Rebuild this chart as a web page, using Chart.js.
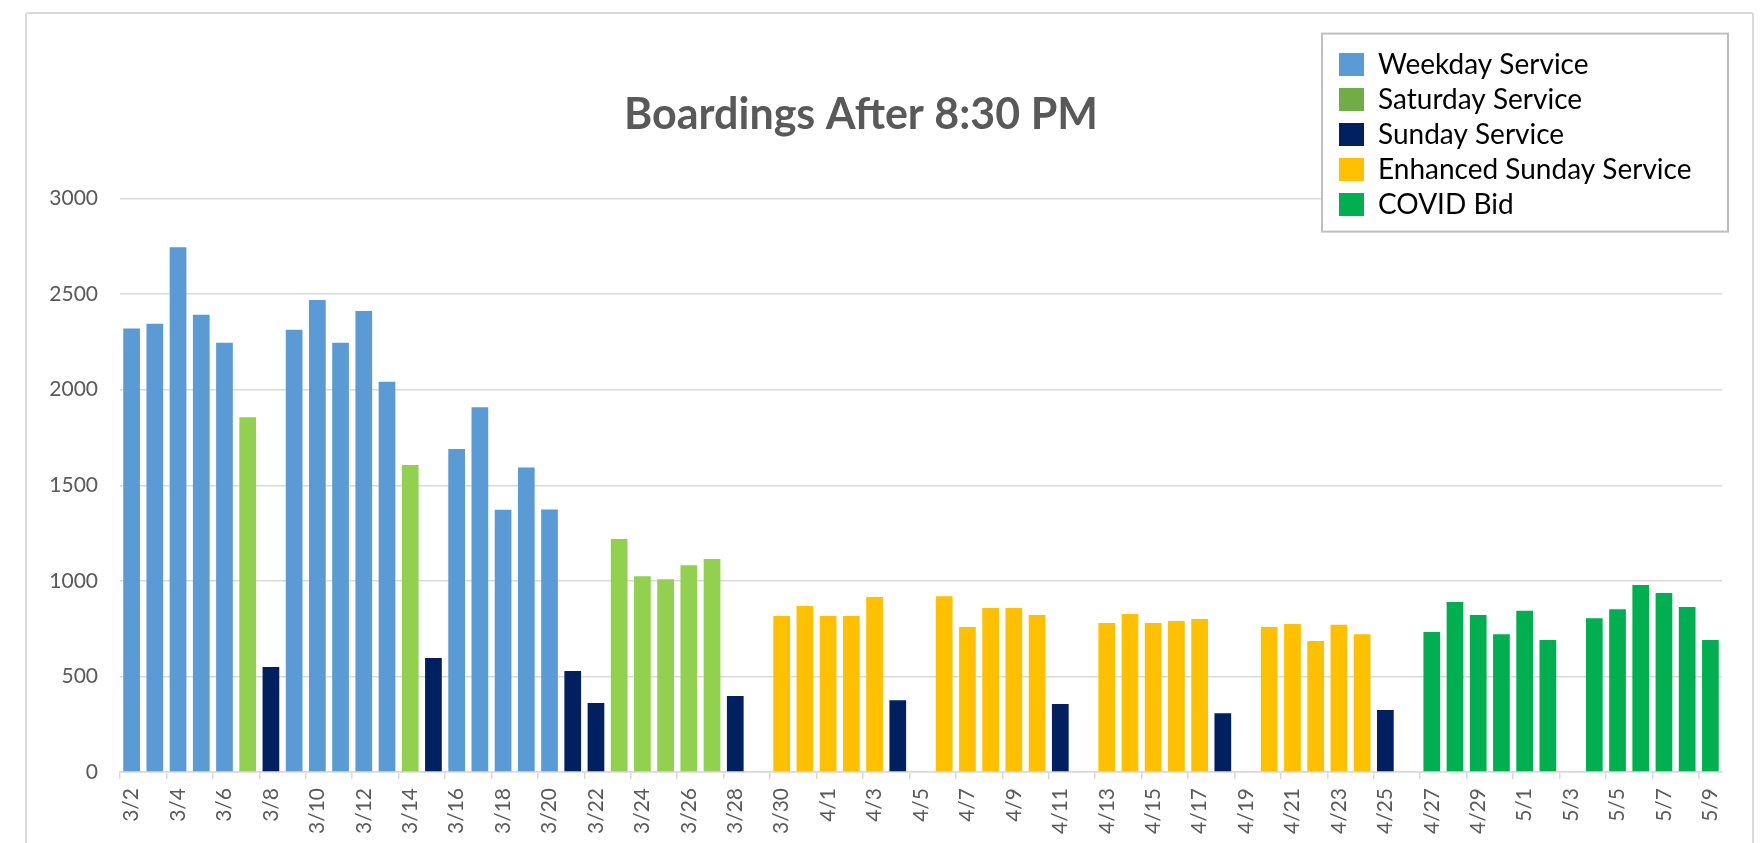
<!DOCTYPE html>
<html>
<head>
<meta charset="utf-8">
<title>Boardings After 8:30 PM</title>
<script src="https://cdn.jsdelivr.net/npm/chart.js@4.4.1/dist/chart.umd.min.js"></script>
<style>
  html, body { margin: 0; padding: 0; background: #fff; overflow: hidden; }
  #frame { position: absolute; left: 25px; top: 12px; width: 1725px; height: 900px; border: 2px solid #d9d9d9; border-radius: 3px; }
  #wrap { position: absolute; left: 0; top: 0; width: 1763px; height: 843px; }
</style>
</head>
<body>
<div id="frame"></div>
<div id="wrap"><canvas id="boardingsChart"></canvas></div>
<script>
// Daily dates, 3/2 to 5/9
const dates = [
  '3/2','3/3','3/4','3/5','3/6','3/7','3/8','3/9','3/10','3/11','3/12','3/13','3/14','3/15',
  '3/16','3/17','3/18','3/19','3/20','3/21','3/22','3/23','3/24','3/25','3/26','3/27','3/28','3/29',
  '3/30','3/31','4/1','4/2','4/3','4/4','4/5','4/6','4/7','4/8','4/9','4/10','4/11','4/12',
  '4/13','4/14','4/15','4/16','4/17','4/18','4/19','4/20','4/21','4/22','4/23','4/24','4/25','4/26',
  '4/27','4/28','4/29','4/30','5/1','5/2','5/3','5/4','5/5','5/6','5/7','5/8','5/9'
];

// Boardings after 8:30 PM (null = no data that day)
const boardings = [
  2320, 2345, 2746, 2392, 2246, 1856, 549, 2314, 2469, 2246, 2412, 2042, 1606, 597,
  1690, 1909, 1372, 1593, 1374, 529, 361, 1219, 1024, 1009, 1082, 1115, 398, null,
  816, 869, 816, 816, 916, 376, null, 920, 759, 858, 858, 821, 356, null,
  779, 827, 779, 790, 801, 308, null, 759, 774, 686, 770, 721, 325, null,
  732, 889, 821, 721, 843, 690, null, 805, 852, 978, 936, 863, 690
];

// Which service ran each day
const service = [
  'W','W','W','W','W','Sa','Su','W','W','W','W','W','Sa','Su',
  'W','W','W','W','W','Su','Su','Sa','Sa','Sa','Sa','Sa','Su',null,
  'E','E','E','E','E','Su',null,'E','E','E','E','E','Su',null,
  'E','E','E','E','E','Su',null,'E','E','E','E','E','Su',null,
  'C','C','C','C','C','C',null,'C','C','C','C','C','C'
];

const seriesKeys = ['W', 'Sa', 'Su', 'E', 'C'];
const seriesNames = ['Weekday Service', 'Saturday Service', 'Sunday Service', 'Enhanced Sunday Service', 'COVID Bid'];
const barColors = ['#5B9BD5', '#92D050', '#002060', '#FFC000', '#00B050'];
const legendColors = ['#5B9BD5', '#70AD47', '#002060', '#FFC000', '#00B050'];

const yTicks = [0, 500, 1000, 1500, 2000, 2500, 3000];

const datasets = seriesKeys.map((key, i) => ({
    label: seriesNames[i],
    data: boardings.map((v, j) => service[j] === key ? v : null),
    backgroundColor: barColors[i],
    borderWidth: 0,
    categoryPercentage: 1,
    barPercentage: 0.72
}));

// legend sits inside the plot, top right, with a grey frame
const legendBox = {
    id: 'legendBox',
    afterLayout(chart) {
        const lg = chart.legend;
        lg.left = chart.chartArea.right - 390;
        lg.top = chart.chartArea.top - 155;
        lg.right = lg.left + lg.width;
        lg.bottom = lg.top + lg.height;
    },
    afterDraw(chart) {
        const lg = chart.legend;
        const ctx = chart.ctx;
        ctx.save();
        ctx.fillStyle = '#fff';
        ctx.strokeStyle = '#bfbfbf';
        ctx.lineWidth = 2;
        ctx.fillRect(lg.left - 10, lg.top - 10, 406, 198);
        ctx.strokeRect(lg.left - 10, lg.top - 10, 406, 198);
        ctx.restore();
        lg.draw();
    }
};

function makeChart() {
    const ctx = document.getElementById('boardingsChart').getContext('2d');
    new Chart(ctx, {
        type: 'bar',
        data: { labels: dates, datasets: datasets },
        options: {
            responsive: true,
            maintainAspectRatio: false,
            animation: false,
            layout: { padding: { left: 0, right: 41, top: 0, bottom: 0 } },
            scales: {
                x: {
                    stacked: true,
                    grid: {
                        offset: true,
                        drawOnChartArea: false,
                        tickLength: 7,
                        lineWidth: 1.5,
                        tickColor: c => c.index % 2 === 0 ? '#d9d9d9' : 'rgba(0,0,0,0)'
                    },
                    border: { color: '#d9d9d9', width: 1.5 },
                    ticks: {
                        autoSkip: false,
                        minRotation: 90,
                        maxRotation: 90,
                        padding: 9,
                        color: '#595959',
                        font: { family: 'Lato', size: 21 },
                        callback: function (v, i) { return i % 2 === 0 ? this.getLabelForValue(v) : ''; }
                    },
                    afterFit: s => { s.height = 71; }
                },
                y: {
                    stacked: true,
                    min: yTicks[0],
                    max: yTicks[yTicks.length - 1],
                    afterBuildTicks: s => { s.ticks = yTicks.map(v => ({ value: v })); },
                    grid: { color: '#d9d9d9', lineWidth: 1.5, drawTicks: false },
                    border: { display: false },
                    ticks: {
                        padding: 22,
                        color: '#595959',
                        font: { family: 'Lato', size: 21 },
                        callback: v => String(v)
                    },
                    afterFit: s => { s.width = 120; }
                }
            },
            plugins: {
                title: {
                    display: true,
                    text: 'Boardings After 8:30 PM',
                    color: '#595959',
                    font: { family: 'Lato', size: 43, weight: 'bold' },
                    padding: { top: 89, bottom: 58 }
                },
                legend: {
                    position: 'chartArea',
                    align: 'start',
                    labels: {
                        boxWidth: 25,
                        boxHeight: 23,
                        padding: 7,
                        color: '#000',
                        font: { family: 'Lato', size: 28 },
                        generateLabels: chart => Chart.defaults.plugins.legend.labels.generateLabels(chart)
                            .map((item, i) => Object.assign(item, { fillStyle: legendColors[i], lineWidth: 0 }))
                    }
                },
                tooltip: { enabled: false }
            }
        },
        plugins: [legendBox]
    });
}

Promise.all([
    document.fonts.load('21px Lato'),
    document.fonts.load('28px Lato'),
    document.fonts.load('bold 43px Lato')
]).then(makeChart, makeChart);
</script>
</body>
</html>
